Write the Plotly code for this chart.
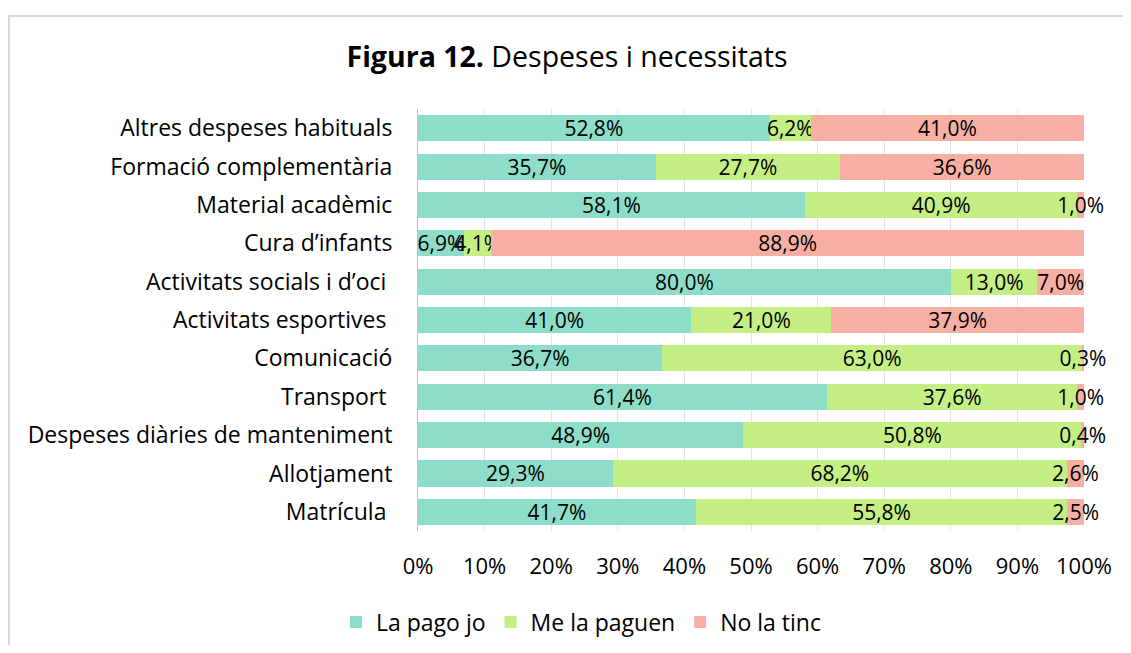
import plotly.graph_objects as go

categories = [
    "Altres despeses habituals",
    "Formació complementària",
    "Material acadèmic",
    "Cura d’infants",
    "Activitats socials i d’oci ",
    "Activitats esportives ",
    "Comunicació",
    "Transport ",
    "Despeses diàries de manteniment",
    "Allotjament",
    "Matrícula ",
]
la_pago_jo = [52.8, 35.7, 58.1, 6.9, 80.0, 41.0, 36.7, 61.4, 48.9, 29.3, 41.7]
me_la_paguen = [6.2, 27.7, 40.9, 4.1, 13.0, 21.0, 63.0, 37.6, 50.8, 68.2, 55.8]
no_la_tinc = [41.0, 36.6, 1.0, 88.9, 7.0, 37.9, 0.3, 1.0, 0.4, 2.6, 2.5]
series_names = ["La pago jo", "Me la paguen", "No la tinc"]
colors = ["#8EDDC8", "#C3EF85", "#F8AFA3"]
tick_vals = [0, 10, 20, 30, 40, 50, 60, 70, 80, 90, 100]

FONT = "Open Sans"

def fmt(v):
    return f"{v:.1f}".replace(".", ",") + "%"

fig = go.Figure()
for name, vals, col in zip(series_names, [la_pago_jo, me_la_paguen, no_la_tinc], colors):
    fig.add_trace(go.Bar(
        y=categories, x=vals, name=name, orientation="h",
        marker=dict(color=col, line=dict(width=0)),
        text=[fmt(v) for v in vals], textposition="inside",
        insidetextanchor="middle", textangle=0, constraintext="none",
        textfont=dict(family=FONT, size=21, color="#000000"),
        cliponaxis=False, hoverinfo="skip",
    ))

# page body has an 8px margin; figure coordinates are page coordinates minus 8
OFF = 8
W, H = 1131 - 2 * OFF, 653 - 2 * OFF
L, R, T, B = 418 - OFF, 1084 - OFF, 109 - OFF, 531 - OFF

def px2x(px):
    return (px - L) / (R - L)

def py2y(py):
    return (B - py) / (B - T)

fig.update_layout(
    width=W, height=H,
    barmode="stack", barnorm="percent", bargap=0.32,
    paper_bgcolor="white", plot_bgcolor="white",
    margin=dict(l=L, r=W - R, t=T, b=H - B, pad=0),
    font=dict(family=FONT, size=21, color="#000000"),
    title=dict(
        text="<b>Figura 12.</b> Despeses i necessitats",
        x=(567 - OFF) / W, xref="container", xanchor="center",
        y=1 - (57 - OFF) / H, yref="container", yanchor="middle",
        font=dict(family=FONT, size=28.5, color="#000000"),
    ),
    xaxis=dict(
        range=[0, 100], tickvals=tick_vals,
        ticktext=[f"{v}%" for v in tick_vals],
        showgrid=True, gridcolor="#E3E3E3", gridwidth=1,
        zeroline=False, showline=False, ticks="",
        ticklabelstandoff=20,
        tickfont=dict(family=FONT, size=22, color="#000000"),
        fixedrange=True,
    ),
    yaxis=dict(
        type="category", autorange="reversed",
        tickvals=categories,
        ticktext=[c.replace(" ", "\u00a0") if c.endswith(" ") else c for c in categories],
        showline=True, linecolor="#BFBFBF", linewidth=1,
        showgrid=False, ticks="", ticklabelstandoff=20,
        tickfont=dict(family=FONT, size=23, color="#000000"),
    ),
    legend=dict(
        orientation="h", xref="container", x=(581 - OFF) / W, xanchor="center",
        yref="container", y=1 - (622 - OFF) / H, yanchor="middle",
        font=dict(family=FONT, size=23, color="#000000"),
        itemwidth=30, traceorder="normal",
    ),
    shapes=[dict(
        type="rect", xref="paper", yref="paper",
        x0=px2x(9 - OFF), x1=px2x(1160), y0=py2y(700), y1=py2y(16 - OFF),
        line=dict(color="#D9D9D9", width=2), fillcolor="rgba(0,0,0,0)",
        layer="below",
    )],
)

fig.write_html("out.html")
